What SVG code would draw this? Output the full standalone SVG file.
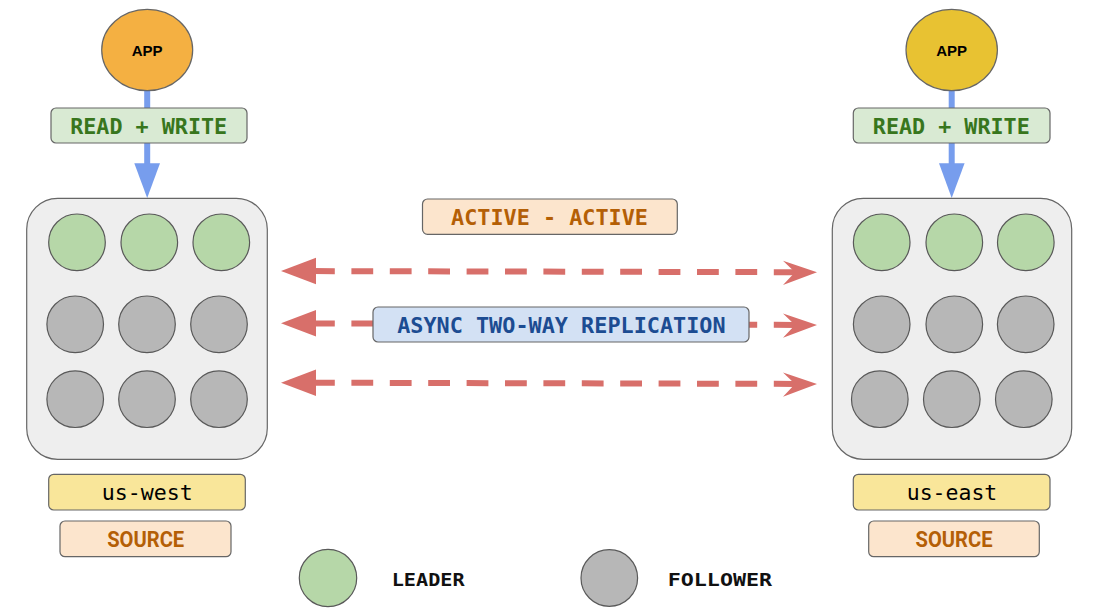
<svg xmlns="http://www.w3.org/2000/svg" width="1098" height="609" viewBox="0 0 1098 609">
<style>
.app{stroke:#666;stroke-width:1.2}
.apptxt{font-family:"Liberation Sans",Arial,sans-serif;font-weight:bold;font-size:15px;fill:#000;text-anchor:middle}
.lbl{stroke:#666;stroke-width:1.2}
.mono{font-family:"DejaVu Sans Mono",monospace;font-weight:bold;font-size:21.5px;text-anchor:middle}
.rw{fill:#d9ead3}
.rwt{fill:#38761d}
.pe{fill:#fce5cd}
.pet{fill:#b45f06}
.bl{fill:#d3e1f4}
.blt{fill:#1c4c92}
.ye{fill:#f9e69a}
.yet{font-family:"DejaVu Sans Mono",monospace;font-size:21.5px;fill:#000;text-anchor:middle}
.src{font-family:Roboto,"Liberation Sans",sans-serif;font-weight:bold;font-size:22px;fill:#b45f06;text-anchor:middle}
.box{fill:#eeeeee;stroke:#666;stroke-width:1.2}
.ld{fill:#b6d7a8;stroke:#595959;stroke-width:1.2}
.fl{fill:#b7b7b7;stroke:#595959;stroke-width:1.2}
.leg{font-family:"DejaVu Sans Mono",monospace;font-weight:bold;font-size:17.5px;fill:#111}
.blue{stroke:#779ded;stroke-width:6;fill:none}
.bluehead{fill:#779ded}
.red{stroke:#d86f6a;stroke-width:6;fill:none;stroke-dasharray:21.8 16.6}
.redhead{fill:#d86f6a}
</style>

<g id="connectors">
  <g id="app-west-to-west">
    <line class="blue" x1="147.2" y1="90" x2="147.2" y2="165"/>
    <polygon class="bluehead" points="134.3,163.3 160,163.3 147.2,198"/>
  </g>
  <g id="app-east-to-east">
    <line class="blue" x1="951.7" y1="90" x2="951.7" y2="165"/>
    <polygon class="bluehead" points="939,163.3 964.6,163.3 951.7,198"/>
  </g>
  <g id="repl-1">
    <path class="red" d="M313,271.1 L796,272.2"/>
    <polygon class="redhead" points="281,271 316,257.7 316,284.3"/>
    <polygon class="redhead" points="817,272.3 783,260.7 795,272.3 783,285"/>
  </g>
  <g id="repl-2">
    <path class="red" d="M313,323.4 L796,324.9"/>
    <polygon class="redhead" points="281,323.3 316,310 316,336.6"/>
    <polygon class="redhead" points="817,325 783,313.4 795,325 783,337.7"/>
  </g>
  <g id="repl-3">
    <path class="red" d="M313,382.7 L796,383.9"/>
    <polygon class="redhead" points="281,382.7 316,369.4 316,396"/>
    <polygon class="redhead" points="817,384 783,372.4 795,384 783,396.7"/>
  </g>
</g>

<g id="app-west">
  <ellipse class="app" cx="147.2" cy="50" rx="45.5" ry="40.7" fill="#f4b042"/>
  <text class="apptxt" x="147.2" y="56">APP</text>
</g>
<g id="app-east">
  <ellipse class="app" cx="951.7" cy="50" rx="45.7" ry="40.7" fill="#e8c232"/>
  <text class="apptxt" x="951.7" y="56">APP</text>
</g>

<g id="rw-west">
  <rect class="lbl rw" x="51" y="108" width="196" height="35" rx="5"/>
  <text class="mono rwt" x="148.7" y="133.5" textLength="157" lengthAdjust="spacingAndGlyphs">READ + WRITE</text>
</g>
<g id="rw-east">
  <rect class="lbl rw" x="853.3" y="108" width="196.7" height="35" rx="5"/>
  <text class="mono rwt" x="951.3" y="133.5" textLength="157" lengthAdjust="spacingAndGlyphs">READ + WRITE</text>
</g>

<g id="active-active">
  <rect class="lbl pe" x="422.5" y="199" width="254.8" height="35.3" rx="5"/>
  <text class="mono pet" x="549.5" y="225.2" textLength="197" lengthAdjust="spacingAndGlyphs">ACTIVE - ACTIVE</text>
</g>

<g id="async">
  <rect class="lbl bl" x="373" y="307" width="376" height="35" rx="5"/>
  <text class="mono blt" x="561.4" y="332.9" textLength="328.5" lengthAdjust="spacingAndGlyphs">ASYNC TWO-WAY REPLICATION</text>
</g>

<g id="us-west">
  <rect class="box" x="26.7" y="198.3" width="240.6" height="261" rx="31"/>
  <circle class="ld" cx="77" cy="242.3" r="28.3"/>
  <circle class="ld" cx="149.3" cy="242.3" r="28.3"/>
  <circle class="ld" cx="221.3" cy="242.3" r="28.3"/>
  <circle class="fl" cx="75.2" cy="324.3" r="28.3"/>
  <circle class="fl" cx="147" cy="324.3" r="28.3"/>
  <circle class="fl" cx="219" cy="324.3" r="28.3"/>
  <circle class="fl" cx="75.2" cy="399.2" r="28.3"/>
  <circle class="fl" cx="147" cy="399.2" r="28.3"/>
  <circle class="fl" cx="219" cy="399.2" r="28.3"/>
</g>
<g id="us-east">
  <rect class="box" x="832.3" y="198.3" width="239.4" height="261" rx="31"/>
  <circle class="ld" cx="881.7" cy="242.3" r="28.3"/>
  <circle class="ld" cx="954.3" cy="242.3" r="28.3"/>
  <circle class="ld" cx="1025.8" cy="242.3" r="28.3"/>
  <circle class="fl" cx="881.7" cy="324.3" r="28.3"/>
  <circle class="fl" cx="954.3" cy="324.3" r="28.3"/>
  <circle class="fl" cx="1025.7" cy="324.3" r="28.3"/>
  <circle class="fl" cx="879.8" cy="399.2" r="28.3"/>
  <circle class="fl" cx="951.8" cy="399.2" r="28.3"/>
  <circle class="fl" cx="1023.8" cy="399.2" r="28.3"/>
</g>

<g id="label-us-west">
  <rect class="lbl ye" x="48.7" y="474.3" width="196.6" height="35.7" rx="5"/>
  <text class="yet" x="147.3" y="500" textLength="91" lengthAdjust="spacingAndGlyphs">us-west</text>
</g>
<g id="label-us-east">
  <rect class="lbl ye" x="853.3" y="474.3" width="196.7" height="35.7" rx="5"/>
  <text class="yet" x="952" y="500" textLength="90.5" lengthAdjust="spacingAndGlyphs">us-east</text>
</g>

<g id="source-west">
  <rect class="lbl pe" x="60" y="521" width="171" height="35.7" rx="5"/>
  <text class="src" x="145.7" y="547.3" textLength="77" lengthAdjust="spacingAndGlyphs">SOURCE</text>
</g>
<g id="source-east">
  <rect class="lbl pe" x="868.7" y="521" width="170.6" height="35.7" rx="5"/>
  <text class="src" x="954" y="547.3" textLength="77" lengthAdjust="spacingAndGlyphs">SOURCE</text>
</g>

<g id="legend-leader">
  <circle class="ld" cx="328" cy="578" r="28.7"/>
  <text class="leg" x="391.7" y="585.7" textLength="73" lengthAdjust="spacingAndGlyphs">LEADER</text>
</g>
<g id="legend-follower">
  <circle class="fl" cx="609.3" cy="578" r="28.3"/>
  <text class="leg" x="667.7" y="585.7" textLength="104.5" lengthAdjust="spacingAndGlyphs">FOLLOWER</text>
</g>
</svg>
